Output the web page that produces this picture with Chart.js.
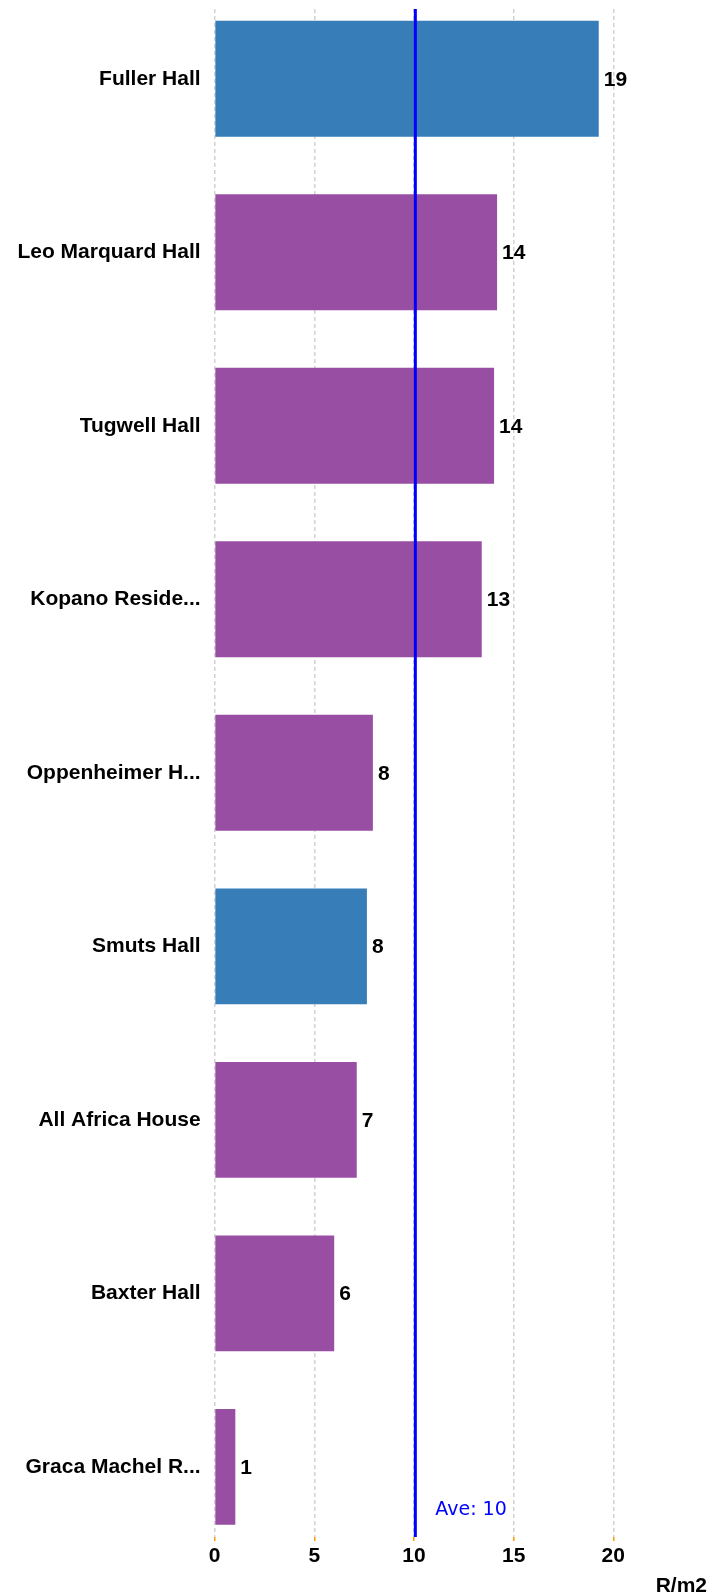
<!DOCTYPE html>
<html>
<head>
<meta charset="utf-8">
<script src="https://cdn.jsdelivr.net/npm/chart.js@4.4.1/dist/chart.umd.min.js"></script>
<style>
html,body{margin:0;padding:0;background:#fff;}
canvas{display:block;}
</style>
</head>
<body>
<canvas id="c" width="709" height="1595"></canvas>
<script>
// ---- data ----
const categories = ['Fuller Hall', 'Leo Marquard Hall', 'Tugwell Hall', 'Kopano Reside...', 'Oppenheimer H...', 'Smuts Hall', 'All Africa House', 'Baxter Hall', 'Graca Machel R...'];
const values = [19.27, 14.17, 14.02, 13.4, 7.94, 7.64, 7.13, 6.0, 1.04];
const groups = ['blue', 'purple', 'purple', 'purple', 'purple', 'blue', 'purple', 'purple', 'purple'];
const xTicks = [0, 5, 10, 15, 20];
const averageValue = 10.07;
const averageLabel = 'Ave: 10';
const axisUnit = 'R/m2';

const groupColors = { blue: '#377eb8', purple: '#984ea3' };
const FONT_FAMILY = '"Liberation Sans", Arial, sans-serif';
const LABEL_FONT = 'bold 21px ' + FONT_FAMILY;

const overlay = {
  id: 'overlay',
  afterDatasetsDraw(chart) {
    const ctx = chart.ctx;
    const area = chart.chartArea;
    const meta = chart.getDatasetMeta(0);
    ctx.save();
    // value labels
    ctx.font = LABEL_FONT;
    ctx.fillStyle = '#000';
    ctx.textAlign = 'left';
    ctx.textBaseline = 'middle';
    meta.data.forEach((bar, i) => {
      ctx.fillText(String(Math.round(values[i])), bar.x + 5, bar.y + 1);
    });
    // average line
    const ax = chart.scales.x.getPixelForValue(averageValue);
    ctx.strokeStyle = '#0000ff';
    ctx.lineWidth = 3;
    ctx.beginPath();
    ctx.moveTo(ax, area.top);
    ctx.lineTo(ax, area.bottom);
    ctx.stroke();
    ctx.fillStyle = '#0000ff';
    ctx.font = '19px "DejaVu Sans", Verdana, sans-serif';
    ctx.textBaseline = 'middle';
    ctx.fillText(averageLabel, ax + 20, area.bottom - 27);
    // axis unit
    ctx.font = LABEL_FONT;
    ctx.fillStyle = '#000';
    ctx.textAlign = 'right';
    ctx.fillText(axisUnit, chart.width - 2, 1586);
    ctx.restore();
  }
};

new Chart(document.getElementById('c'), {
  type: 'bar',
  data: {
    datasets: [{
      data: values.map((v, i) => ({ x: v, y: i })),
      backgroundColor: groups.map(g => groupColors[g]),
      borderWidth: 0,
      categoryPercentage: 1,
      barPercentage: 0.668
    }]
  },
  options: {
    indexAxis: 'y',
    responsive: false,
    animation: false,
    layout: { padding: { top: 9, right: 95.7, bottom: 0, left: 0 } },
    plugins: { legend: { display: false }, tooltip: { enabled: false } },
    scales: {
      x: {
        type: 'linear',
        position: 'bottom',
        min: 0,
        max: 20,
        afterBuildTicks: s => { s.ticks = xTicks.map(v => ({ value: v })); },
        afterFit: s => { s.height = 58; s.paddingLeft = 0; s.paddingRight = 0; },
        ticks: {
          color: '#000',
          padding: 3,
          maxRotation: 0,
          font: { family: FONT_FAMILY, size: 21, weight: 'bold' }
        },
        grid: {
          color: '#d2d2d2',
          lineWidth: 1.5,
          borderDash: [4, 3],
          drawTicks: true,
          tickLength: 4,
          tickColor: '#ff9900',
          tickWidth: 1.5,
          tickBorderDash: []
        },
        border: { display: false, dash: [4, 3] }
      },
      y: {
        type: 'linear',
        reverse: true,
        offset: false,
        min: -0.402,
        max: 8.404,
        afterBuildTicks: s => { s.ticks = categories.map((_, i) => ({ value: i })); },
        afterFit: s => { s.width = 214.6; s.paddingTop = 0; s.paddingBottom = 0; },
        ticks: {
          autoSkip: false,
          color: '#000',
          padding: 14,
          callback: v => categories[v],
          font: { family: FONT_FAMILY, size: 21, weight: 'bold' }
        },
        grid: { display: false, drawTicks: false, offset: false },
        border: { display: false }
      }
    }
  },
  plugins: [overlay]
});
</script>
</body>
</html>
